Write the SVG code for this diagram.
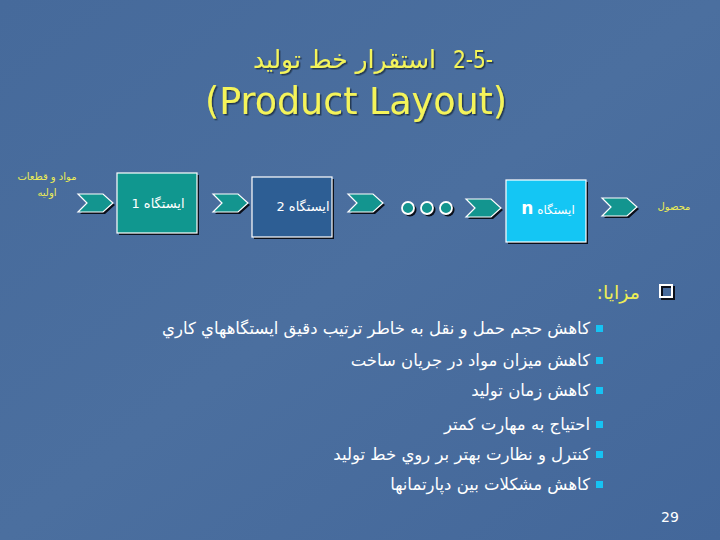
<svg xmlns="http://www.w3.org/2000/svg" width="720" height="540" viewBox="0 0 720 540">
  <defs>
    <linearGradient id="bg" x1="0" y1="0" x2="1" y2="1">
      <stop offset="0" stop-color="#466a9b"/>
      <stop offset="0.5" stop-color="#4b6f9f"/>
      <stop offset="1" stop-color="#43679a"/>
    </linearGradient>
    <filter id="ts" x="-5%" y="-20%" width="110%" height="140%">
      <feDropShadow dx="1.5" dy="1.5" stdDeviation="0.3" flood-color="#1a2a40" flood-opacity="0.8"/>
    </filter>
    <path id="chev" d="M0,0 H25 L35,9 L25,18 H0 L9,9 Z"/>
    <style>
      .ar { font-family: "DejaVu Sans", sans-serif; }
      .title { fill: #f4f45a; }
      .yl { fill: #eded55; font-size: 10px; }
      .wt { fill: #ffffff; }
      .box { stroke: #ffffff; stroke-width: 1.2; }
      .shadow { fill: #0a0f1a; }
      .chev { fill: #13958f; stroke: #ffffff; stroke-width: 1.2; stroke-linejoin: miter; }
      .dot { fill: #13958f; stroke: #ffffff; stroke-width: 1.8; }
      .bul { fill: #16c3f3; }
      .btxt { font-size: 16.5px; fill: #ffffff; }
    </style>
  </defs>

  <rect width="720" height="540" fill="url(#bg)"/>

  <!-- Title -->
  <g id="title" filter="url(#ts)">
    <text class="ar title" x="493" y="68" font-size="24" text-anchor="end" direction="ltr" textLength="40" lengthAdjust="spacingAndGlyphs">2-5-</text>
    <text class="ar title" x="436" y="68" font-size="25" text-anchor="end" textLength="183" lengthAdjust="spacingAndGlyphs">استقرار خط توليد</text>
    <text class="title" x="356" y="114" font-size="37" text-anchor="middle" font-family="'DejaVu Sans', sans-serif" textLength="302" lengthAdjust="spacingAndGlyphs">(Product Layout)</text>
  </g>

  <!-- Input label -->
  <g id="input">
    <text class="ar yl" x="47" y="180" text-anchor="middle">مواد و قطعات</text>
    <text class="ar yl" x="47" y="196" text-anchor="middle">اوليه</text>
  </g>

  <!-- Stations -->
  <g id="station1">
    <rect class="shadow" x="119" y="175" width="80" height="60"/>
    <rect class="box" x="117" y="173" width="80" height="60" fill="#10978f"/>
    <text class="ar wt" x="158" y="208" font-size="13" text-anchor="middle" direction="rtl">ايستگاه 1</text>
  </g>
  <g id="station2">
    <rect class="shadow" x="254" y="179" width="80" height="60"/>
    <rect class="box" x="252" y="177" width="80" height="60" fill="#2d5e94"/>
    <text class="ar wt" x="303" y="211" font-size="13" text-anchor="middle" direction="rtl">ايستگاه 2</text>
  </g>
  <g id="stationN">
    <rect class="shadow" x="508" y="182" width="80" height="62"/>
    <rect class="box" x="506" y="180" width="80" height="62" fill="#14c6f4"/>
    <text class="ar wt" x="548" y="214" font-size="12" text-anchor="middle" direction="rtl">ايستگاه <tspan font-size="17" font-weight="bold">n</tspan></text>
  </g>

  <!-- Output label -->
  <g id="output">
    <text class="ar yl" x="674" y="210" text-anchor="middle">محصول</text>
  </g>

  <!-- Connectors -->
  <g id="connectors">
    <use href="#chev" x="80" y="196" class="shadow"/>
    <use href="#chev" x="78" y="194" class="chev"/>
    <use href="#chev" x="215" y="196" class="shadow"/>
    <use href="#chev" x="213" y="194" class="chev"/>
    <use href="#chev" x="350" y="196" class="shadow"/>
    <use href="#chev" x="348" y="194" class="chev"/>
    <use href="#chev" x="468" y="201" class="shadow"/>
    <use href="#chev" x="466" y="199" class="chev"/>
    <use href="#chev" x="604" y="200" class="shadow"/>
    <use href="#chev" x="602" y="198" class="chev"/>
  </g>

  <!-- Ellipsis dots -->
  <g id="ellipsis">
    <circle class="shadow" cx="410" cy="210" r="6.5"/>
    <circle class="shadow" cx="429" cy="210" r="6.5"/>
    <circle class="shadow" cx="448" cy="210" r="6.5"/>
    <circle class="dot" cx="408" cy="208" r="6"/>
    <circle class="dot" cx="427" cy="208" r="6"/>
    <circle class="dot" cx="446" cy="208" r="6"/>
  </g>

  <!-- Advantages list -->
  <g id="advantages">
    <rect x="662" y="287" width="12" height="12" fill="none" stroke="#0a0f1a" stroke-width="2"/>
    <rect x="660" y="285" width="12" height="12" fill="none" stroke="#ffffff" stroke-width="2"/>
    <text class="ar" x="640" y="299" font-size="19" fill="#eded55" direction="rtl" text-anchor="start">مزايا:</text>

    <rect class="bul" x="596" y="325" width="7" height="7"/>
    <text class="ar btxt" x="590" y="334" direction="rtl" text-anchor="start">كاهش حجم حمل و نقل به خاطر ترتيب دقيق ايستگاههاي كاري</text>
    <rect class="bul" x="596" y="357" width="7" height="7"/>
    <text class="ar btxt" x="590" y="366" direction="rtl" text-anchor="start">كاهش ميزان مواد در جريان ساخت</text>
    <rect class="bul" x="596" y="387" width="7" height="7"/>
    <text class="ar btxt" x="590" y="396" direction="rtl" text-anchor="start">كاهش زمان توليد</text>
    <rect class="bul" x="596" y="421" width="7" height="7"/>
    <text class="ar btxt" x="590" y="430" direction="rtl" text-anchor="start">احتياج به مهارت كمتر</text>
    <rect class="bul" x="596" y="451" width="7" height="7"/>
    <text class="ar btxt" x="590" y="460" direction="rtl" text-anchor="start">كنترل و نظارت بهتر بر روي خط توليد</text>
    <rect class="bul" x="596" y="481" width="7" height="7"/>
    <text class="ar btxt" x="590" y="490" direction="rtl" text-anchor="start">كاهش مشكلات بين دپارتمانها</text>
  </g>

  <text x="670" y="522" font-size="14" fill="#ffffff" text-anchor="middle" font-family="'DejaVu Sans', sans-serif">29</text>
</svg>
